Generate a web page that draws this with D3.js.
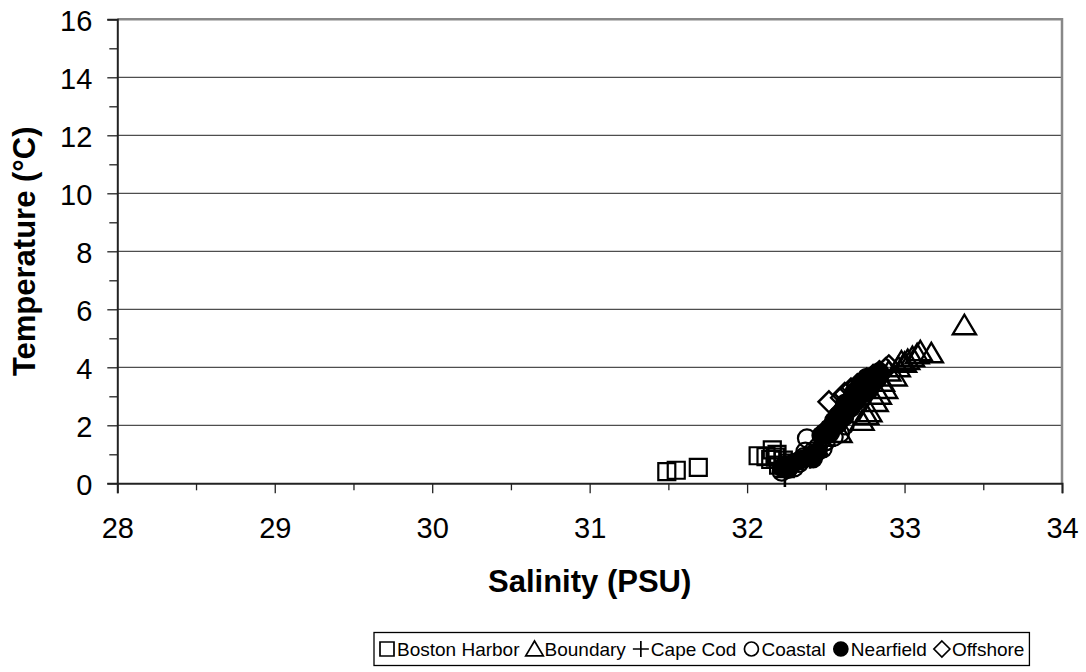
<!DOCTYPE html>
<html>
<head>
<meta charset="utf-8">
<script src="https://cdn.jsdelivr.net/npm/d3@7/dist/d3.min.js"></script>
<style>
  html, body { margin: 0; padding: 0; background: #fff; }
  svg { display: block; font-family: Arial, "Liberation Sans", sans-serif; }
</style>
</head>
<body>
<svg id="chart" width="1086" height="672"></svg>
<script>
// Temperature vs. salinity by station group
const bostonHarborSal  = [31.49, 31.55, 31.69, 32.07, 32.16, 32.15, 32.18, 32.20, 32.23, 32.27, 32.19, 32.12];
const bostonHarborTemp = [0.40, 0.45, 0.55, 0.95, 1.15, 0.82, 0.90, 0.63, 0.80, 0.70, 1.00, 0.92];

const boundarySal  = [33.38, 33.17, 33.08, 33.05, 33.00, 32.96, 32.94, 32.90, 32.88, 32.84, 32.82, 32.78, 32.76, 32.73, 32.86, 33.02, 32.59, 33.10, 32.98];
const boundaryTemp = [5.45, 4.48, 4.45, 4.35, 4.15, 4.00, 3.68, 3.85, 3.25, 3.05, 2.80, 2.45, 2.35, 2.15, 3.50, 4.25, 1.73, 4.55, 4.20];

const capeCodSal  = [32.24, 32.30, 32.35, 32.45, 32.40, 32.50];
const capeCodTemp = [0.22, 0.65, 0.80, 1.00, 0.85, 1.30];

const coastalSal  = [32.22, 32.26, 32.30, 32.33, 32.36, 32.38, 32.42, 32.45, 32.48, 32.59, 32.55, 32.50, 32.62, 32.37];
const coastalTemp = [0.40, 0.50, 0.55, 0.70, 0.90, 1.55, 1.10, 1.25, 1.20, 1.72, 1.60, 1.45, 2.00, 1.09];

const nearfieldSal  = [32.22, 32.24, 32.26, 32.28, 32.30, 32.33, 32.36, 32.40, 32.43, 32.45, 32.42,
                       32.47, 32.49, 32.50, 32.52, 32.54, 32.55, 32.57, 32.58, 32.60, 32.61, 32.63, 32.64,
                       32.66, 32.67, 32.69, 32.70, 32.72, 32.73, 32.75, 32.76, 32.78, 32.80, 32.82, 32.84,
                       32.53, 32.58, 32.62, 32.66, 32.70, 32.74, 32.78, 32.82, 32.62, 32.68, 32.72, 32.76];
const nearfieldTemp = [0.55, 0.62, 0.50, 0.65, 0.72, 0.78, 0.85, 0.92, 1.00, 1.10, 0.85,
                       1.65, 1.75, 1.70, 1.90, 2.00, 2.15, 2.20, 2.35, 2.40, 2.55, 2.65, 2.80,
                       2.85, 3.00, 3.10, 3.20, 3.30, 3.35, 3.45, 3.55, 3.60, 3.70, 3.75, 3.85,
                       1.75, 2.05, 2.30, 2.60, 2.85, 3.10, 3.35, 3.55, 2.75, 3.15, 3.40, 3.65];

const offshoreSal  = [32.52, 32.60, 32.62, 32.66, 32.70, 32.73, 32.76, 32.80, 32.84, 32.88, 32.68, 32.72, 32.78, 32.90, 32.64];
const offshoreTemp = [2.81, 2.95, 3.10, 3.25, 3.40, 3.50, 3.60, 3.72, 3.85, 3.95, 3.00, 3.20, 3.45, 4.05, 2.70];

const seriesNames = ["Boston Harbor", "Boundary", "Cape Cod", "Coastal", "Nearfield", "Offshore"];
const xTicks = [28, 29, 30, 31, 32, 33, 34];
const yTicks = [0, 2, 4, 6, 8, 10, 12, 14, 16];

// Marker shapes (size = half-width in px)
const shapeSquare = { draw(c, s) { c.rect(-s, -s, 2 * s, 2 * s); } };
const shapeTriangle = { draw(c, s) { c.moveTo(0, -s); c.lineTo(s * 1.1, s * 0.85); c.lineTo(-s * 1.1, s * 0.85); c.closePath(); } };
const shapeCross = { draw(c, s) { c.moveTo(-s, 0); c.lineTo(s, 0); c.moveTo(0, -s); c.lineTo(0, s); } };
const shapeCircle = { draw(c, s) { c.moveTo(s, 0); c.arc(0, 0, s, 0, 2 * Math.PI); } };
const shapeDiamond = { draw(c, s) { c.moveTo(0, -s); c.lineTo(s, 0); c.lineTo(0, s); c.lineTo(-s, 0); c.closePath(); } };

const series = [
  { name: seriesNames[0], sal: bostonHarborSal, temp: bostonHarborTemp, shape: shapeSquare, size: 8.5, fill: "none", sw: 2.2 },
  { name: seriesNames[1], sal: boundarySal, temp: boundaryTemp, shape: shapeTriangle, size: 10.5, fill: "none", sw: 2.4 },
  { name: seriesNames[2], sal: capeCodSal, temp: capeCodTemp, shape: shapeCross, size: 10, fill: "none", sw: 2.6 },
  { name: seriesNames[3], sal: coastalSal, temp: coastalTemp, shape: shapeCircle, size: 9, fill: "none", sw: 2.2 },
  { name: seriesNames[4], sal: nearfieldSal, temp: nearfieldTemp, shape: shapeCircle, size: 9, fill: "#000", sw: 1.5 },
  { name: seriesNames[5], sal: offshoreSal, temp: offshoreTemp, shape: shapeDiamond, size: 10.5, fill: "none", sw: 2.4 }
];

const svg = d3.select("#chart");
const L = 117.3, R = 1062, T = 19.3, B = 483.3;

const x = d3.scaleLinear().domain([28, 34]).range([L, R]);
const y = d3.scaleLinear().domain([0, 16]).range([B, T]);

// Horizontal gridlines
svg.append("g")
  .selectAll("line")
  .data(yTicks.filter(t => t > 0 && t < 16))
  .join("line")
  .attr("x1", L).attr("x2", R)
  .attr("y1", d => y(d)).attr("y2", d => y(d))
  .attr("stroke", "#222").attr("stroke-width", 1);

// Plot frame: top and right in grey
svg.append("path")
  .attr("d", `M${L},${y(16)}H${R}V${B}`)
  .attr("fill", "none").attr("stroke", "#888").attr("stroke-width", 2.5);

// Minor ticks
svg.append("g").attr("transform", `translate(${L},0)`)
  .call(d3.axisLeft(y).tickValues(d3.range(1, 16, 2)).tickSize(8).tickFormat(""))
  .call(g => g.select(".domain").remove())
  .call(g => g.selectAll("line").attr("stroke", "#222").attr("stroke-width", 1.3));
svg.append("g").attr("transform", `translate(0,${B})`)
  .call(d3.axisBottom(x).tickValues(d3.range(28.5, 34, 1)).tickSize(7).tickFormat(""))
  .call(g => g.select(".domain").remove())
  .call(g => g.selectAll("line").attr("stroke", "#222").attr("stroke-width", 1.3));

// Major axes
const yAxis = svg.append("g").attr("transform", `translate(${L},0)`)
  .call(d3.axisLeft(y).tickValues(yTicks).tickSize(10).tickPadding(15).tickFormat(d3.format("d")));
const xAxis = svg.append("g").attr("transform", `translate(0,${B})`)
  .call(d3.axisBottom(x).tickValues(xTicks).tickSize(10).tickPadding(24).tickFormat(d3.format("d")));
[yAxis, xAxis].forEach(g => {
  g.select(".domain").attr("stroke", "#222").attr("stroke-width", 2);
  g.selectAll(".tick line").attr("stroke", "#222").attr("stroke-width", 1.3);
  g.selectAll(".tick text").attr("fill", "#000")
    .style("font-family", "Arial, 'Liberation Sans', sans-serif").style("font-size", "29px");
});
yAxis.selectAll(".tick text").attr("dy", "0.38em");
xAxis.selectAll(".tick text").attr("dy", "0.72em");

// Axis titles
svg.append("text")
  .attr("x", (L + R) / 2).attr("y", 592)
  .attr("text-anchor", "middle")
  .style("font-size", "31px").style("font-weight", "bold")
  .text("Salinity (PSU)");
svg.append("text")
  .attr("transform", `translate(35,${(T + B) / 2}) rotate(-90)`)
  .attr("text-anchor", "middle")
  .style("font-size", "31px").style("font-weight", "bold")
  .text("Temperature (°C)");

// Data markers
const plot = svg.append("g");
series.forEach(s => {
  const sym = d3.symbol().type(s.shape).size(s.size);
  plot.append("g")
    .selectAll("path")
    .data(s.sal.map((v, i) => [v, s.temp[i]]))
    .join("path")
    .attr("transform", d => `translate(${x(d[0])},${y(d[1])})`)
    .attr("d", sym)
    .attr("fill", s.fill)
    .attr("stroke", "#000")
    .attr("stroke-width", s.sw);
});

// Legend
const legend = svg.append("g");
const legItems = legend.append("g");
let cx = 379;
const ly = 649;
series.forEach(s => {
  const size = s.shape === shapeCircle ? 7 : (s.shape === shapeSquare ? 7 : 8);
  legItems.append("path")
    .attr("transform", `translate(${cx + 8},${ly})`)
    .attr("d", d3.symbol().type(s.shape).size(size)())
    .attr("fill", s.fill).attr("stroke", "#000").attr("stroke-width", 1.7);
  const t = legItems.append("text")
    .attr("x", cx + 18).attr("y", ly).attr("dy", "0.36em")
    .style("font-size", "19px")
    .text(s.name);
  cx += 18 + t.node().getComputedTextLength() + 7;
});
legend.insert("rect", ":first-child")
  .attr("x", 374).attr("y", 632.5)
  .attr("width", cx - 374 - 2).attr("height", 33)
  .attr("fill", "#fff").attr("stroke", "#000").attr("stroke-width", 1.3);
</script>
</body>
</html>
